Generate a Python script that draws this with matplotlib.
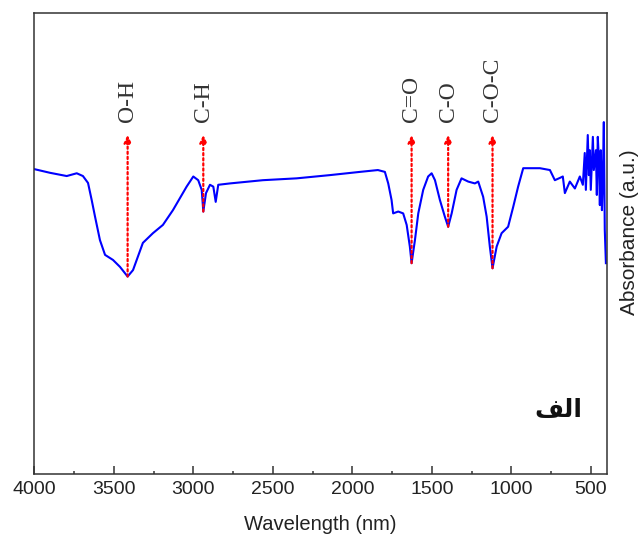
import matplotlib
matplotlib.use("Agg")
import matplotlib.pyplot as plt
from matplotlib.ticker import MultipleLocator

# ---- data ----
wavelength = [4000, 3901, 3796, 3733, 3694, 3662, 3639, 3618, 3587, 3555, 3505, 3461, 3413,
              3379, 3317, 3254, 3191, 3128, 3042, 3000, 2969, 2947, 2937, 2920, 2895, 2874,
              2859, 2843, 2769, 2562, 2350, 2141, 1952, 1839, 1795, 1774, 1753, 1743, 1711,
              1680, 1658, 1638, 1627, 1606, 1585, 1554, 1523, 1501, 1480, 1449, 1418, 1397,
              1375, 1344, 1313, 1271, 1229, 1208, 1177, 1155, 1135, 1118, 1092, 1061, 1020,
              988, 957, 925, 820, 757, 726, 694, 676, 663, 632, 600, 569, 550, 538, 531, 519,
              512, 506, 500, 487, 481, 468, 462, 456, 449, 443, 437, 430, 424, 418, 412, 405]
absorbance = [0.662, 0.654, 0.647, 0.653, 0.647, 0.632, 0.595, 0.559, 0.508, 0.476, 0.465, 0.450, 0.429,
              0.443, 0.502, 0.523, 0.541, 0.573, 0.624, 0.646, 0.638, 0.617, 0.570, 0.610, 0.628, 0.624,
              0.591, 0.628, 0.631, 0.638, 0.642, 0.649, 0.656, 0.660, 0.656, 0.631, 0.595, 0.566, 0.570,
              0.566, 0.541, 0.494, 0.458, 0.508, 0.566, 0.617, 0.646, 0.653, 0.638, 0.595, 0.559, 0.537,
              0.566, 0.617, 0.642, 0.635, 0.631, 0.635, 0.602, 0.559, 0.494, 0.447, 0.494, 0.523, 0.537,
              0.580, 0.624, 0.664, 0.664, 0.660, 0.638, 0.643, 0.646, 0.610, 0.635, 0.620, 0.646, 0.628,
              0.697, 0.617, 0.736, 0.649, 0.703, 0.617, 0.732, 0.660, 0.703, 0.606, 0.732, 0.682, 0.584,
              0.703, 0.573, 0.649, 0.764, 0.530, 0.458]

peak_labels = ["O-H", "C-H", "C=O", "C-O", "C-O-C"]
peak_pos = [3413, 2937, 1627, 1397, 1118]
peak_min = [0.429, 0.570, 0.458, 0.537, 0.447]
arrow_tip = 0.736
label_base = 0.764

xticks_major = [4000, 3500, 3000, 2500, 2000, 1500, 1000, 500]
panel_label = "\ufed2\ufedf\ufe8d"  # "الف" in Arabic presentation forms, visual order
panel_pos = (707, 0.139)

# ---- figure ----
fig = plt.figure(figsize=(6.42, 5.43), dpi=100)
ax = fig.add_axes([0.0534, 0.1265, 0.8921, 0.849])

ax.plot(wavelength, absorbance, color="#0000ff", lw=1.5)

for lab, x, ymin in zip(peak_labels, peak_pos, peak_min):
    ax.annotate("", xy=(x, arrow_tip), xytext=(x, ymin),
                arrowprops=dict(arrowstyle="-|>,head_length=0.45,head_width=0.22",
                                linestyle=(0, (1, 1.3)), color="red", lw=1.6,
                                shrinkA=0, shrinkB=0))
    ax.text(x, label_base, lab, rotation=90, ha="center", va="bottom",
            family="Liberation Serif", fontsize=17, color="#333333")

ax.text(panel_pos[0], panel_pos[1], panel_label, ha="center", va="center",
        family="DejaVu Sans", fontsize=18, fontweight="bold", color="#111111")

ax.set_xlim(4000, 398)
ax.set_ylim(0, 1)
ax.set_xticks(xticks_major)
ax.xaxis.set_minor_locator(MultipleLocator(250))
ax.tick_params(axis="x", which="major", direction="in", length=6, width=1.1,
               labelsize=14, pad=5, colors="#333333", labelcolor="#222222")
ax.tick_params(axis="x", which="minor", direction="in", length=2.5, width=1.1, colors="#333333")
ax.tick_params(axis="y", which="both", left=False, right=False, labelleft=False, labelright=False)
ax.tick_params(axis="x", which="both", top=False)

for lbl in ax.get_xticklabels():
    lbl.set_family("Liberation Sans")

for s in ax.spines.values():
    s.set_color("#333333")
    s.set_linewidth(1.1)

ax.set_xlabel("Wavelength (nm)", family="Liberation Sans", fontsize=14.5,
              color="#222222", labelpad=12)
ax.yaxis.set_label_position("right")
ax.set_ylabel("Absorbance (a.u.)", family="Liberation Sans", fontsize=15,
              color="#222222")
ax.yaxis.set_label_coords(1.023, 0.526)

fig.savefig("out.png", dpi=100)
